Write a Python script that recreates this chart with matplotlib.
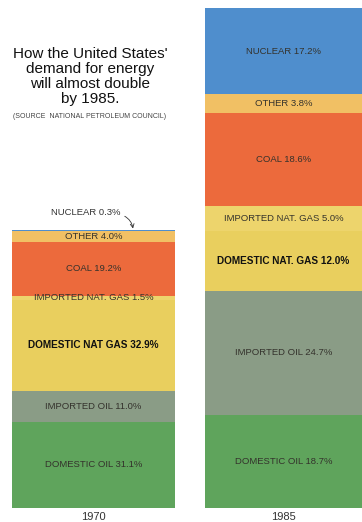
import matplotlib
matplotlib.use("Agg")
import matplotlib.pyplot as plt

plt.rcParams['font.family'] = ['Liberation Sans', 'DejaVu Sans']

years = ['1970', '1985']
# total demand, 1970 = 100
demand = [100, 180]

sources = ['DOMESTIC OIL', 'IMPORTED OIL', 'DOMESTIC NAT. GAS',
           'IMPORTED NAT. GAS', 'COAL', 'OTHER', 'NUCLEAR']
share_1970 = [31.1, 11.0, 32.9, 1.5, 19.2, 4.0, 0.3]
share_1985 = [18.7, 24.7, 12.0, 5.0, 18.6, 3.8, 17.2]

labels_1970 = ['DOMESTIC OIL 31.1%', 'IMPORTED OIL 11.0%', 'DOMESTIC NAT GAS 32.9%',
               'IMPORTED NAT. GAS 1.5%', 'COAL 19.2%', 'OTHER 4.0%', None]
labels_1985 = ['DOMESTIC OIL 18.7%', 'IMPORTED OIL 24.7%', 'DOMESTIC NAT. GAS 12.0%',
               'IMPORTED NAT. GAS 5.0%', 'COAL 18.6%', 'OTHER 3.8%', 'NUCLEAR 17.2%']

colors = ['#5fa45c', '#8a9c86', '#e9cf5e', '#edd46c', '#ec6a3c', '#f1c064', '#4f8ecd']

fig = plt.figure(figsize=(3.62, 5.22), dpi=100)
ax = fig.add_axes([0, 14 / 522, 1, 500 / 522])
ax.set_xlim(0, 362)
ax.set_ylim(0, 180)
ax.axis('off')

# bar left edges and widths in figure pixels
lefts = [12, 205]
widths = [163, 157]

for k, (shares, labels) in enumerate([(share_1970, labels_1970), (share_1985, labels_1985)]):
    scale = demand[k] / 100.0
    bottom = 0.0
    for s, lab, c in zip(shares, labels, colors):
        h = s * scale
        ax.bar(lefts[k], h, width=widths[k], bottom=bottom, color=c,
               align='edge', linewidth=0)
        if lab is not None:
            strong = lab.startswith('DOMESTIC NAT')
            ax.text(lefts[k] + widths[k] / 2, bottom + h / 2, lab,
                    ha='center', va='center',
                    fontsize=7.2 if strong else 6.8,
                    fontweight='bold' if strong else 'normal',
                    color='#111111' if strong else '#34322c')
        bottom += h
    ax.text(lefts[k] + widths[k] / 2, -3.2, years[k], ha='center', va='center',
            fontsize=8, color='#333333', clip_on=False)

# tiny nuclear slice in 1970 gets a pointer label
ax.annotate('NUCLEAR 0.3%', xy=(133, 100.6), xytext=(86, 106.3),
            fontsize=6.8, color='#333333', ha='center', va='center',
            arrowprops=dict(arrowstyle='->', color='#333333', lw=0.6,
                            connectionstyle='arc3,rad=-0.3',
                            shrinkA=1, shrinkB=0,
                            relpos=(1.0, 0.3)))

fig.text(90 / 362, 1 - 47 / 522,
         "How the United States'\ndemand for energy\nwill almost double\nby 1985.",
         ha='center', va='top', fontsize=11, linespacing=1.1, color='#111111')
fig.text(90 / 362, 1 - 116 / 522, '(SOURCE  NATIONAL PETROLEUM COUNCIL)',
         ha='center', va='center', fontsize=5, color='#444444')

fig.savefig('out.png', dpi=100)
